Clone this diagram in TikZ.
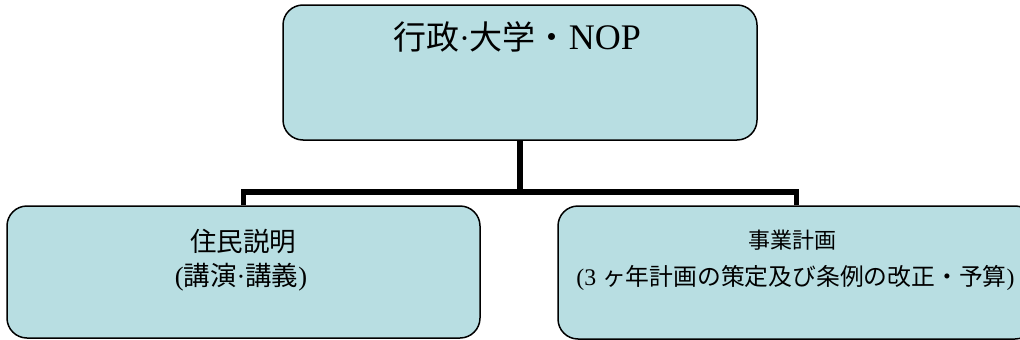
\documentclass[tikz,border=0pt]{standalone}
\usepackage{fontspec}
\setmainfont{Liberation Serif}
\newfontfamily\jp{Noto Sans CJK JP}
\definecolor{boxfill}{RGB}{184,222,226}
\begin{document}
\begin{tikzpicture}[x=1pt,y=-1pt,
  box/.style={draw=black, line width=1.5pt, fill=boxfill, rounded corners=20pt, inner sep=0pt},
  link/.style={draw=black, line width=5.5pt},
  lbl/.style={inner sep=0pt, anchor=center}]
\useasboundingbox (0,0) rectangle (1020,340);
\node[box, minimum width=474pt, minimum height=135pt] (top) at (520,72.5) {};
\node[box, minimum width=473pt, minimum height=132pt] (left) at (243.5,272) {};
\node[box, minimum width=477pt, minimum height=133pt] (right) at (796.5,272.5) {};
\node[lbl] (toptext) at (517,37) {\fontsize{33}{33}\selectfont{\jp 行政}·{\jp 大学・}\fontsize{36}{36}\selectfont NOP};
\node[lbl] (l1) at (243,241) {\fontsize{26.5}{26.5}\selectfont\jp 住民説明};
\node[lbl] (l2) at (241,277) {\fontsize{26.5}{26.5}\selectfont({\jp 講演}·{\jp 講義})};
\node[lbl] (r1) at (792,240) {\fontsize{22}{22}\selectfont\jp 事業計画};
\node[lbl] (r2) at (795.5,278) {\fontsize{23.8}{23.8}\selectfont(3 {\jp ヶ年計画の策定及び条例の改正・予算})};
\coordinate (bus) at (520,192);
\draw[link] (top.south) -- (bus);
\draw[link] (left.north) |- (bus) -| (right.north);
\end{tikzpicture}
\end{document}
